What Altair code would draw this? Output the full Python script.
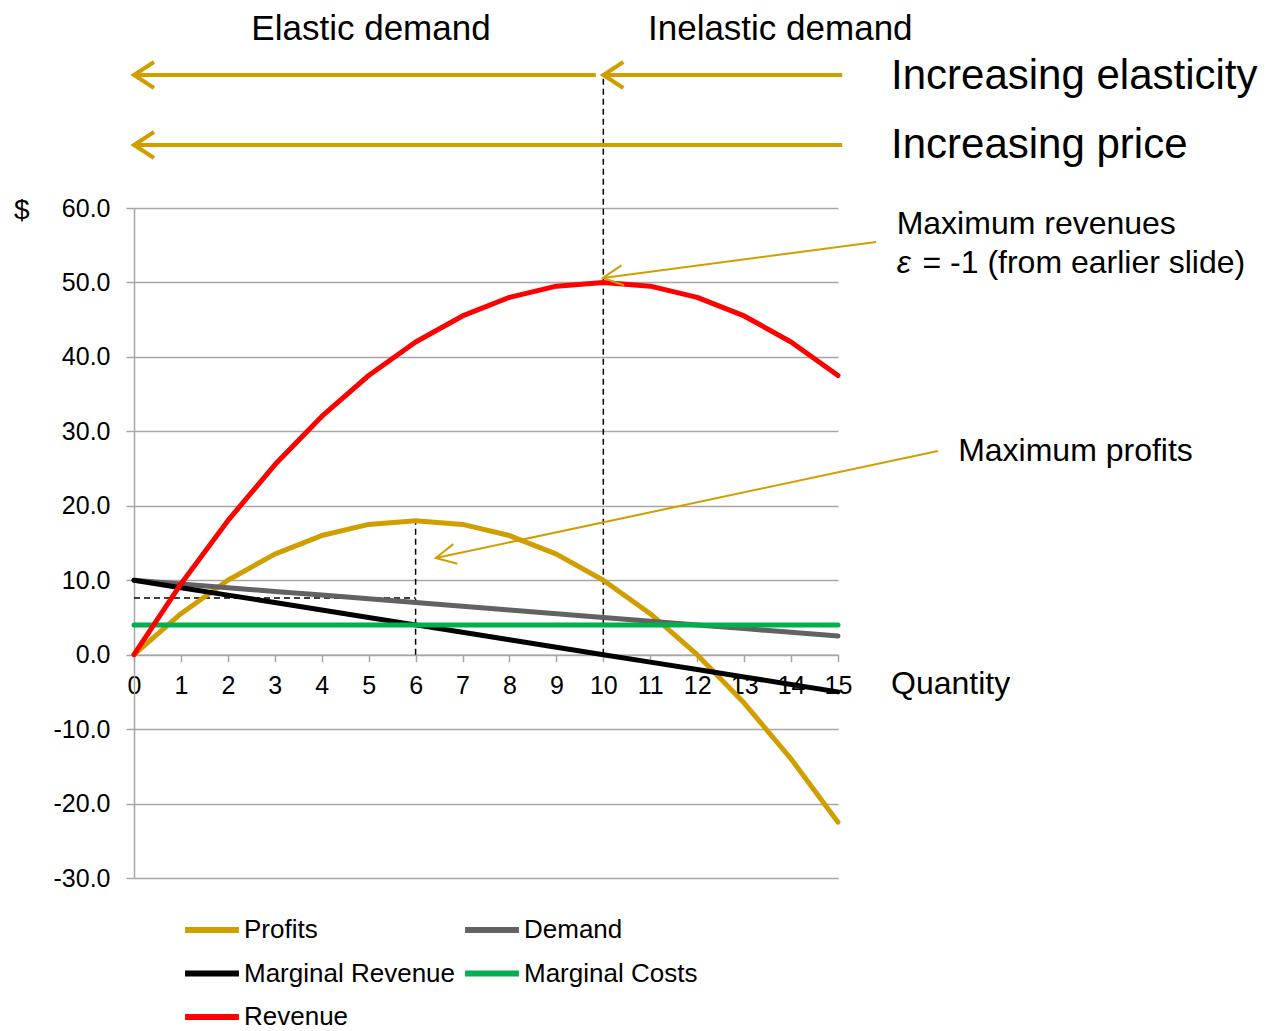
import altair as alt
import pandas as pd

# ---------------- data ----------------
quantity = [0, 1, 2, 3, 4, 5, 6, 7, 8, 9, 10, 11, 12, 13, 14, 15]
profits = [0, 5.5, 10, 13.5, 16, 17.5, 18, 17.5, 16, 13.5, 10, 5.5, 0, -6.5, -14, -22.5]
demand = [10, 9.5, 9, 8.5, 8, 7.5, 7, 6.5, 6, 5.5, 5, 4.5, 4, 3.5, 3, 2.5]
marginal_revenue = [10, 9, 8, 7, 6, 5, 4, 3, 2, 1, 0, -1, -2, -3, -4, -5]
marginal_costs = [4, 4, 4, 4, 4, 4, 4, 4, 4, 4, 4, 4, 4, 4, 4, 4]
revenue = [0, 9.5, 18, 25.5, 32, 37.5, 42, 45.5, 48, 49.5, 50, 49.5, 48, 45.5, 42, 37.5]

series_names = ["Profits", "Demand", "Marginal Revenue", "Marginal Costs", "Revenue"]
series_values = [profits, demand, marginal_revenue, marginal_costs, revenue]
series_colors = ["#D19E00", "#626262", "#000000", "#00B050", "#FF0000"]

y_ticks = [-30, -20, -10, 0, 10, 20, 30, 40, 50, 60]
x_ticks = quantity

GOLD = "#D19E00"
FONT = "Liberation Sans"

rows = []
for name, vals in zip(series_names, series_values):
    for q, v in zip(quantity, vals):
        rows.append({"Series": name, "Quantity": q, "Value": v})
df = pd.DataFrame(rows)

# guide lines (data coordinates)
dash_x = [10, 6, 0]
dash_y = [0, 0, 7.6]
dash_x2 = [10, 6, 6]
dash_y2 = [77.87, 18, 7.6]
dash_df = pd.DataFrame({"x": dash_x, "y": dash_y, "x2": dash_x2, "y2": dash_y2})

# thick gold arrows on top
big_x = [15.09, 9.84, 15.09]
big_y = [77.87, 77.87, 68.46]
big_x2 = [10.0, 0, 0]
big_y2 = [77.87, 77.87, 68.46]
big_df = pd.DataFrame({"x": big_x, "y": big_y, "x2": big_x2, "y2": big_y2})
bighead_df = pd.DataFrame({"x": big_x2, "y": big_y2, "angle": [0, 0, 0]})

# thin annotation arrows
thin_x = [15.81, 17.13]
thin_y = [55.43, 27.36]
thin_x2 = [9.99, 6.43]
thin_y2 = [50.6, 12.98]
thin_df = pd.DataFrame({"x": thin_x, "y": thin_y, "x2": thin_x2, "y2": thin_y2})
thinhead_df = pd.DataFrame({"x": thin_x2, "y": thin_y2, "angle": [352.5, 348]})

# texts
head_texts = pd.DataFrame({"x": [5.05, 13.77], "y": [82.57, 82.57],
                           "t": ["Elastic demand", "Inelastic demand"]})
big_texts = pd.DataFrame({"x": [16.13, 16.13], "y": [77.73, 68.46],
                          "t": ["Increasing elasticity", "Increasing price"]})
ann_texts = pd.DataFrame({"x": [16.25, 16.80, 17.56], "y": [57.85, 52.6, 27.36],
                          "t": ["Maximum revenues", "= -1 (from earlier slide)", "Maximum profits"]})
eps_text = pd.DataFrame({"x": [16.25], "y": [52.6], "t": ["ε"]})
quantity_text = pd.DataFrame({"x": [16.13], "y": [-4.0], "t": ["Quantity"]})
dollar_text = pd.DataFrame({"x": [-2.39], "y": [59.6], "t": ["$"]})

# ---------------- scales ----------------
xs = alt.Scale(domain=[0, 15], nice=False, zero=False)
ys = alt.Scale(domain=[-30, 60], nice=False, zero=False)

x_axis = alt.Axis(values=x_ticks, title=None, grid=False, offset=-223.33,
                  labelFontSize=25, labelPadding=12, tickSize=7, tickWidth=1.5,
                  tickColor="#A6A6A6", domainColor="#A6A6A6", domainWidth=1.5,
                  labelFlush=False, labelColor="#000000", labelFont=FONT,
                  labelOverlap=False)
y_axis = alt.Axis(values=y_ticks, title=None, grid=True,
                  labelExpr="datum.value < 0 ? '-' + format(-datum.value, '.1f') : format(datum.value, '.1f')",
                  gridColor="#A6A6A6", gridWidth=1.5, labelFontSize=25,
                  labelPadding=16, tickSize=8, tickWidth=1.5, tickColor="#A6A6A6",
                  domainColor="#A6A6A6", domainWidth=1.5, labelColor="#000000",
                  labelFont=FONT)

lines = alt.Chart(df).mark_line(strokeWidth=5, strokeCap="round", strokeJoin="round").encode(
    x=alt.X("Quantity:Q", scale=xs, axis=x_axis),
    y=alt.Y("Value:Q", scale=ys, axis=y_axis),
    color=alt.Color("Series:N", sort=series_names,
                    scale=alt.Scale(domain=series_names, range=series_colors),
                    legend=alt.Legend(title=None, orient="none", legendX=48, legendY=692,
                                      columns=2, direction="horizontal",
                                      symbolType="stroke", symbolStrokeWidth=6,
                                      symbolSize=2900, rowPadding=0.5, columnPadding=-3,
                                      labelOffset=2, labelFontSize=26, labelFont=FONT,
                                      labelColor="#000000", labelLimit=0)),
)


def seg(data, **kw):
    return alt.Chart(data).mark_rule(**kw).encode(
        x=alt.X("x:Q", scale=xs), y=alt.Y("y:Q", scale=ys),
        x2="x2:Q", y2="y2:Q")


dashes = seg(dash_df, color="#000000", strokeWidth=1.5, strokeDash=[6, 4])
big_arrows = seg(big_df, color=GOLD, strokeWidth=4)
thin_arrows = seg(thin_df, color=GOLD, strokeWidth=2)


def heads(data, shape, size, sw):
    return alt.Chart(data).mark_point(shape=shape, filled=False, size=size,
                                      strokeWidth=sw, color=GOLD, opacity=1).encode(
        x=alt.X("x:Q", scale=xs), y=alt.Y("y:Q", scale=ys),
        angle=alt.Angle("angle:Q", scale=None))


big_heads = heads(bighead_df, "M1,-0.65L0,0L1,0.65", 1600, 4)
thin_heads = heads(thinhead_df, "M1,-0.5L0,0L1,0.5", 1600, 2)


def texts(data, size, align="left", baseline="middle", **kw):
    return alt.Chart(data).mark_text(align=align, baseline=baseline, fontSize=size,
                                     font=FONT, color="#000000", **kw).encode(
        x=alt.X("x:Q", scale=xs), y=alt.Y("y:Q", scale=ys), text="t:N")


t_head = texts(head_texts, 35, align="center", baseline="alphabetic")
t_big = texts(big_texts, 42)
t_ann = texts(ann_texts, 32)
t_eps = texts(eps_text, 32, fontStyle="italic")
t_q = texts(quantity_text, 32)
t_d = texts(dollar_text, 28, align="center")

chart = alt.layer(
    dashes, lines, big_arrows, big_heads, thin_arrows, thin_heads,
    t_head, t_big, t_ann, t_eps, t_q, t_d
).properties(
    width=704, height=670,
    autosize=alt.AutoSizeParams(type="none"),
    padding={"left": 126, "top": 200, "right": 424, "bottom": 153},
    background="#FFFFFF",
).configure_view(stroke=None)

chart.save("out.html", embed_options={"renderer": "svg", "actions": False})
